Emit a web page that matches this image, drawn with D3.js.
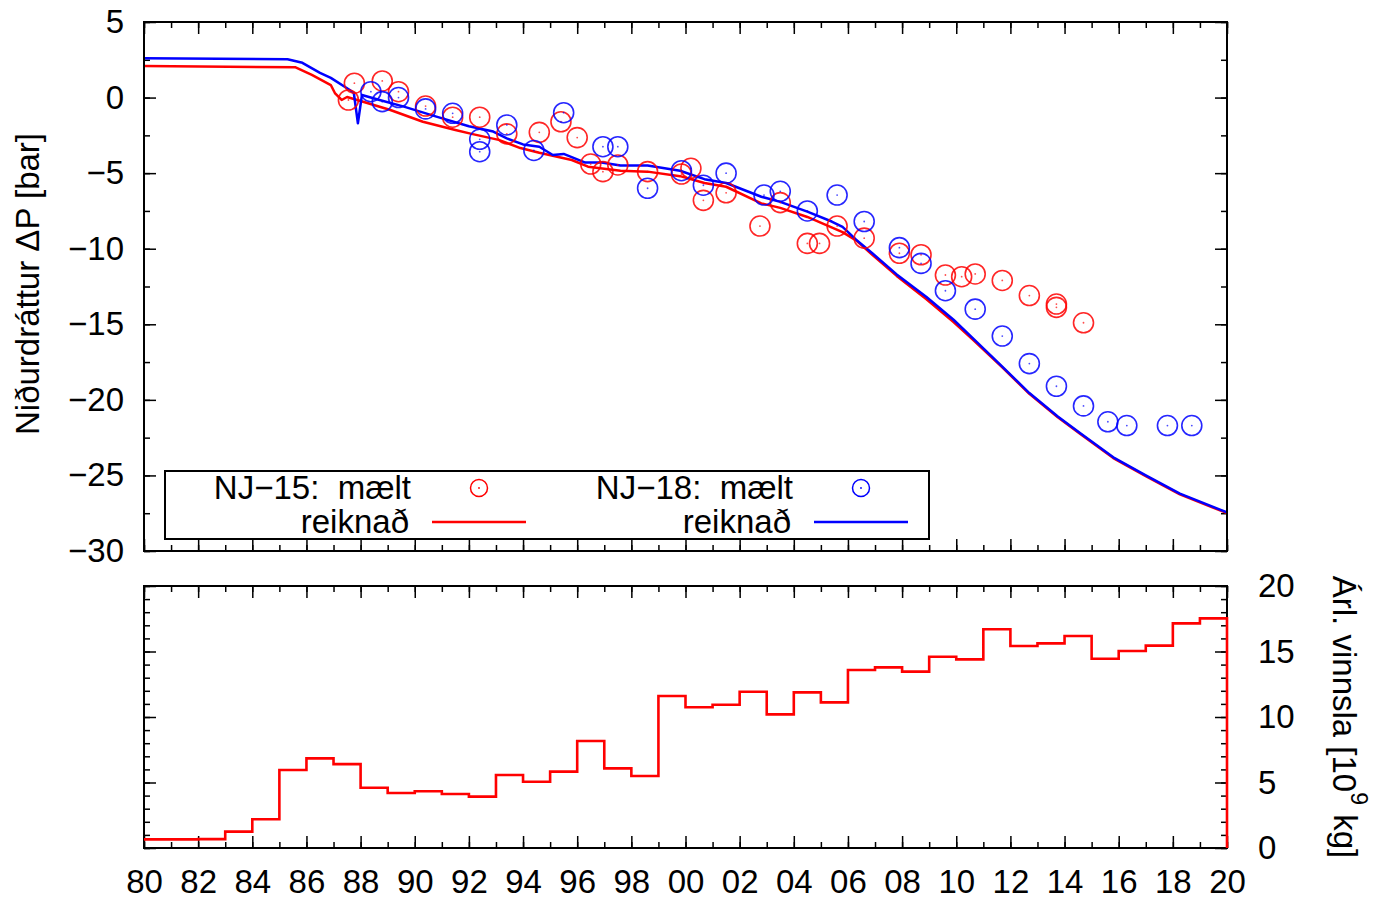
<!DOCTYPE html>
<html>
<head>
<meta charset="utf-8">
<script src="https://cdn.jsdelivr.net/npm/d3@7"></script>
<style>
  body { margin: 0; background: #fff; }
  svg text { font-family: 'Liberation Sans', Arial, Helvetica, sans-serif; fill: #000; }
</style>
</head>
<body>
<script>
// measured drawdown, NJ-15 (red circles)
let nj15Years = [1987.55, 1987.77, 1988.8, 1989.4, 1990.4, 1991.4, 1992.4, 1993.4, 1994.6, 1995.4,
                 1996.0, 1996.5, 1996.95, 1997.5, 1998.6, 1999.85, 2000.2, 2000.66, 2001.5, 2002.75,
                 2003.5, 2004.5, 2004.95, 2005.6, 2006.6, 2007.9, 2008.7, 2009.6, 2010.2, 2010.7,
                 2011.7, 2012.7, 2013.7, 2013.7, 2014.7];
let nj15Dp = [-0.16, 0.95, 1.1, 0.39, -0.56, -1.3, -1.3, -2.4, -2.3, -1.6,
              -2.65, -4.4, -4.9, -4.46, -4.9, -5.06, -4.68, -6.8, -6.3, -8.5,
              -6.95, -9.65, -9.65, -8.5, -9.3, -10.3, -10.4, -11.74, -11.85, -11.67,
              -12.1, -13.1, -13.66, -13.88, -14.9];

// measured drawdown, NJ-18 (blue circles)
let nj18Years = [1988.38, 1988.8, 1989.4, 1990.4, 1991.4, 1992.4, 1992.4, 1993.4, 1994.4, 1995.5,
                 1996.95, 1997.5, 1998.6, 1999.85, 2000.66, 2001.5, 2002.9, 2003.5, 2004.5, 2005.6,
                 2006.6, 2007.9, 2008.7, 2009.6, 2010.7, 2011.7, 2012.7, 2013.7, 2014.7, 2015.6,
                 2016.3, 2017.8, 2018.7];
let nj18Dp = [0.39, -0.27, 0, -0.75, -1.04, -2.76, -3.58, -1.81, -3.5, -1.0,
              -3.25, -3.25, -6.0, -4.84, -5.8, -5.0, -6.45, -6.2, -7.5, -6.45,
              -8.2, -9.93, -10.97, -12.78, -14.0, -15.78, -17.6, -19.1, -20.4, -21.45,
              -21.7, -21.7, -21.7];

// calculated drawdown, NJ-15 (red line)
let calc15Years = [1980, 1985.6, 1986.2, 1986.9, 1987.05, 1987.3, 1987.5, 1988.0, 1989.1, 1990.3,
                   1991.5, 1992.1, 1993.1, 1993.9, 1994.6, 1995.8, 1996.4, 1997.6, 1998.6, 1999.8,
                   2000.7, 2001.5, 2002.8, 2003.5, 2004.5, 2005.8, 2006.3, 2006.9, 2007.8, 2008.9,
                   2009.9, 2010.6, 2011.7, 2012.7, 2013.75, 2014.57, 2015.8, 2017.0, 2018.26, 2020];
let calc15Dp = [2.09, 2.0, 1.5, 0.83, 0.3, -0.16, 0.04, -0.23, -0.82, -1.6,
                -2.14, -2.4, -2.8, -3.34, -3.65, -4.13, -4.57, -4.84, -4.9, -5.2,
                -5.65, -5.9, -7.0, -7.3, -7.9, -8.9, -9.45, -10.4, -11.8, -13.35,
                -14.85, -16.0, -17.85, -19.6, -21.15, -22.25, -23.85, -25.05, -26.25, -27.5];

// calculated drawdown, NJ-18 (blue line)
let calc18Years = [1980, 1985.3, 1985.85, 1986.5, 1986.9, 1987.6, 1987.75, 1987.9, 1988.05, 1988.7,
                   1989.6, 1990.8, 1992.0, 1992.9, 1993.4, 1994.0, 1994.6, 1995.1, 1995.5, 1996.3,
                   1996.9, 1997.6, 1998.6, 1999.8, 2000.7, 2001.5, 2002.8, 2003.5, 2004.5, 2005.4,
                   2005.8, 2006.3, 2006.9, 2007.8, 2008.9, 2009.9, 2010.6, 2011.7, 2012.7, 2013.75,
                   2014.57, 2015.8, 2017.0, 2018.26, 2020];
let calc18Dp = [2.6, 2.53, 2.3, 1.63, 1.3, 0.5, 0.3, -1.7, 0.17, -0.16,
                -0.6, -1.26, -1.9, -2.25, -2.7, -3.1, -3.25, -3.8, -3.73, -4.3,
                -4.3, -4.5, -4.5, -4.84, -5.4, -5.65, -6.56, -6.9, -7.55, -8.2,
                -8.56, -9.4, -10.3, -11.7, -13.2, -14.7, -15.9, -17.8, -19.55, -21.1,
                -22.2, -23.8, -25.0, -26.2, -27.45];

// yearly production [10^9 kg], 1980..2019
let prodYears = d3.range(1980, 2020);
let production = [0.66, 0.66, 0.68, 1.25, 2.2, 5.95, 6.84, 6.4, 4.6, 4.2,
                  4.33, 4.12, 3.92, 5.57, 5.06, 5.83, 8.17, 6.08, 5.5, 11.6,
                  10.74, 10.94, 11.93, 10.2, 11.88, 11.12, 13.59, 13.79, 13.46, 14.6,
                  14.4, 16.7, 15.42, 15.62, 16.18, 14.45, 15.04, 15.45, 17.15, 17.53];

let xMajor = d3.range(1980, 2021, 2);
let xMinor = d3.range(1980, 2021, 1);
let topLabels = d3.range(-30, 6, 5);
let botLabels = [0, 5, 10, 15, 20];

let red = '#ff0000';
let blue = '#0000ff';

// canvas
let width = 1384;
let height = 899;
let left = 144, right = 1227;
let topY0 = 22, topY1 = 551;
let botY0 = 586, botY1 = 848;
let fontSize = 33;

let svg = d3.select('body').append('svg')
   .attr('width', width)
   .attr('height', height);

let x = d3.scaleLinear().domain([1980, 2020]).range([left, right]);
let yTop = d3.scaleLinear().domain([-30, 5]).range([topY1, topY0]);
let yBot = d3.scaleLinear().domain([0, 20]).range([botY1, botY0]);

// inward ticks, no labels
let addTicks = (axisFn, scale, transform, values, size) => {
   svg.append('g')
      .attr('transform', transform)
      .call(axisFn(scale).tickValues(values).tickSize(size).tickFormat(''))
      .call(g => g.select('.domain').remove())
      .selectAll('line')
         .attr('stroke', '#000')
         .attr('stroke-width', 1.5);
}

// labels only
let addLabels = (axisFn, scale, transform, values, padding, fmt) => {
   let g = svg.append('g')
      .attr('transform', transform)
      .call(axisFn(scale).tickValues(values).tickSize(0).tickPadding(padding).tickFormat(fmt))
      .call(g => g.select('.domain').remove());
   g.attr('font-size', fontSize).attr('font-family', null);
   g.selectAll('text').attr('fill', '#000');
}

let drawPanelTicks = (yScale, y0, y1, yMinor, yMajor) => {
   addTicks(d3.axisBottom, x, `translate(0,${y1})`, xMinor, -6);
   addTicks(d3.axisBottom, x, `translate(0,${y1})`, xMajor, -12);
   addTicks(d3.axisTop, x, `translate(0,${y0})`, xMinor, -6);
   addTicks(d3.axisTop, x, `translate(0,${y0})`, xMajor, -12);
   addTicks(d3.axisLeft, yScale, `translate(${left},0)`, yMinor, -6);
   addTicks(d3.axisLeft, yScale, `translate(${left},0)`, yMajor, -12);
   addTicks(d3.axisRight, yScale, `translate(${right},0)`, yMinor, -6);
   addTicks(d3.axisRight, yScale, `translate(${right},0)`, yMajor, -12);
}

// ---------- top panel ----------
svg.append('clipPath').attr('id', 'clipTop')
   .append('rect')
      .attr('x', left).attr('y', topY0)
      .attr('width', right - left).attr('height', topY1 - topY0);

drawPanelTicks(yTop, topY0, topY1, d3.range(-30, 5.1, 2.5), topLabels);

let lineTop = d3.line()
   .x(d => x(d[0]))
   .y(d => yTop(d[1]));

let plotTop = svg.append('g').attr('clip-path', 'url(#clipTop)');

plotTop.append('path')
   .datum(d3.zip(calc15Years, calc15Dp))
   .attr('d', lineTop)
   .attr('fill', 'none')
   .attr('stroke', red)
   .attr('stroke-width', 2.5)
   .attr('stroke-linejoin', 'round');

plotTop.append('path')
   .datum(d3.zip(calc18Years, calc18Dp))
   .attr('d', lineTop)
   .attr('fill', 'none')
   .attr('stroke', blue)
   .attr('stroke-width', 2.5)
   .attr('stroke-linejoin', 'round');

let drawCircles = (years, values, color) => {
   let pts = d3.zip(years, values);
   plotTop.append('g').selectAll('circle')
      .data(pts)
      .enter()
      .append('circle')
         .attr('cx', d => x(d[0]))
         .attr('cy', d => yTop(d[1]))
         .attr('r', 10)
         .attr('fill', 'none')
         .attr('stroke', color)
         .attr('stroke-opacity', 0.85)
         .attr('stroke-width', 1.6);
   plotTop.append('g').selectAll('circle')
      .data(pts)
      .enter()
      .append('circle')
         .attr('cx', d => x(d[0]))
         .attr('cy', d => yTop(d[1]))
         .attr('r', 0.9)
         .attr('fill', color)
         .attr('fill-opacity', 0.7);
}
drawCircles(nj15Years, nj15Dp, red);
drawCircles(nj18Years, nj18Dp, blue);

svg.append('rect')
   .attr('x', left).attr('y', topY0)
   .attr('width', right - left).attr('height', topY1 - topY0)
   .attr('fill', 'none')
   .attr('stroke', '#000')
   .attr('stroke-width', 2);

addLabels(d3.axisLeft, yTop, `translate(${left},0)`, topLabels, 20, d3.format('d'));

svg.append('text')
   .attr('transform', `translate(27,284) rotate(-90)`)
   .attr('text-anchor', 'middle')
   .attr('dy', '0.35em')
   .attr('font-size', fontSize)
   .text('Niðurdráttur ΔP [bar]');

// legend
let legend = svg.append('g');
legend.append('rect')
   .attr('x', 165).attr('y', 471)
   .attr('width', 764).attr('height', 68)
   .attr('fill', '#fff')
   .attr('stroke', '#000')
   .attr('stroke-width', 2);

let legendItems = [
   { name: 'NJ\u221215:  mælt', color: red, textX: 411, symX: 479 },
   { name: 'NJ\u221218:  mælt', color: blue, textX: 793, symX: 861 }
];
legendItems.forEach(item => {
   legend.append('text')
      .attr('x', item.textX).attr('y', 499)
      .attr('text-anchor', 'end')
      .attr('font-size', fontSize)
      .style('white-space', 'pre')
      .text(item.name);
   legend.append('circle')
      .attr('cx', item.symX).attr('cy', 488).attr('r', 8.5)
      .attr('fill', 'none').attr('stroke', item.color).attr('stroke-width', 1.5);
   legend.append('circle')
      .attr('cx', item.symX).attr('cy', 488).attr('r', 0.9)
      .attr('fill', item.color);
   legend.append('text')
      .attr('x', item.textX - 2).attr('y', 533)
      .attr('text-anchor', 'end')
      .attr('font-size', fontSize)
      .text('reiknað');
   legend.append('line')
      .attr('x1', item.symX - 47).attr('x2', item.symX + 47)
      .attr('y1', 522).attr('y2', 522)
      .attr('stroke', item.color)
      .attr('stroke-width', 2.5);
});

// ---------- bottom panel ----------
drawPanelTicks(yBot, botY0, botY1, d3.range(0, 20.1, 1), botLabels);

let stepData = d3.zip(prodYears, production);
stepData.push([2020, production[production.length - 1]]);
stepData.push([2020, 0]);

svg.append('rect')
   .attr('x', left).attr('y', botY0)
   .attr('width', right - left).attr('height', botY1 - botY0)
   .attr('fill', 'none')
   .attr('stroke', '#000')
   .attr('stroke-width', 2);

svg.append('path')
   .datum(stepData)
   .attr('d', d3.line().curve(d3.curveStepAfter).x(d => x(d[0])).y(d => yBot(d[1])))
   .attr('fill', 'none')
   .attr('stroke', red)
   .attr('stroke-width', 2.6);

addLabels(d3.axisBottom, x, `translate(0,${botY1})`, xMajor, 22, d => String(d % 100).padStart(2, '0'));
addLabels(d3.axisRight, yBot, `translate(${right},0)`, botLabels, 31, d3.format('d'));

let rightTitle = svg.append('text')
   .attr('transform', `translate(1345,${(botY0 + botY1) / 2}) rotate(90)`)
   .attr('text-anchor', 'middle')
   .attr('dy', '0.35em')
   .attr('font-size', fontSize);
rightTitle.append('tspan').text('Árl. vinnsla [10');
rightTitle.append('tspan').attr('font-size', 23).attr('dy', '-0.75em').text('9');
rightTitle.append('tspan').attr('dy', '0.52em').text(' kg]');
</script>
</body>
</html>
